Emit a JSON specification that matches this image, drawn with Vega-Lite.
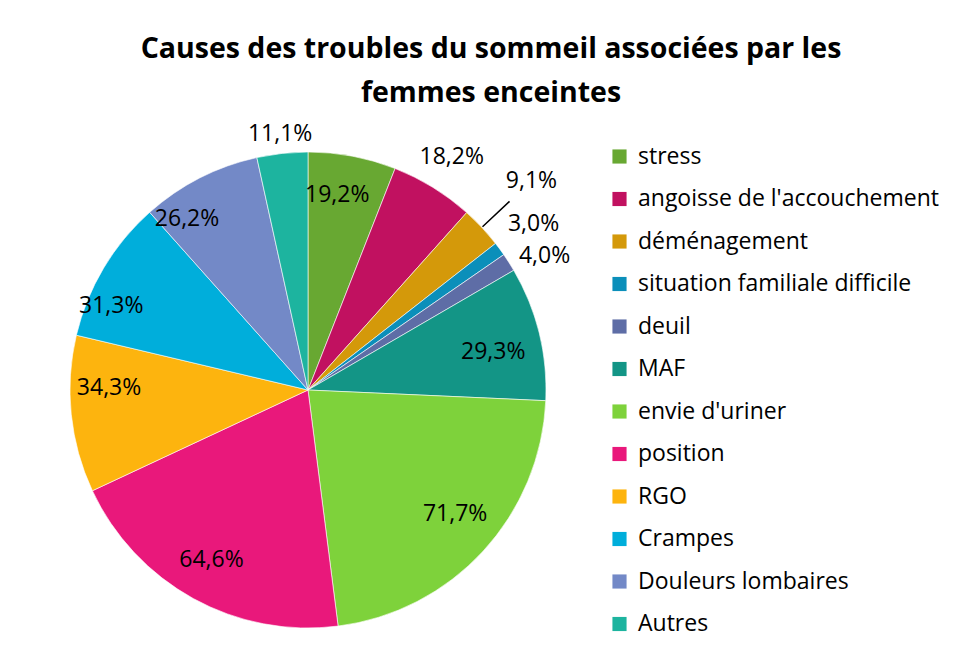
{
  "$schema": "https://vega.github.io/schema/vega-lite/v6.json",
  "autosize": {"type": "none"},
  "width": 476,
  "height": 476,
  "padding": {"left": 70, "top": 152, "right": 418, "bottom": 38},
  "background": "white",
  "config": {"view": {"stroke": null}, "font": "Open Sans", "text": {"fontSize": 23, "font": "Open Sans", "color": "#000000"}},
  "title": {
    "text": ["Causes des troubles du sommeil associées par les", "femmes enceintes"],
    "fontSize": 28.5,
    "fontWeight": "bold",
    "font": "Open Sans",
    "color": "#000000",
    "lineHeight": 44,
    "anchor": "middle",
    "frame": "group",
    "dx": 183,
    "offset": 15
  },
  "data": {
    "values": [
      {"cause": "stress", "pct": 19.2, "label": "19,2%"},
      {"cause": "angoisse de l'accouchement", "pct": 18.2, "label": "18,2%"},
      {"cause": "déménagement", "pct": 9.1, "label": "9,1%"},
      {"cause": "situation familiale difficile", "pct": 3.0, "label": "3,0%"},
      {"cause": "deuil", "pct": 4.0, "label": "4,0%"},
      {"cause": "MAF", "pct": 29.3, "label": "29,3%"},
      {"cause": "envie d'uriner", "pct": 71.7, "label": "71,7%"},
      {"cause": "position", "pct": 64.6, "label": "64,6%"},
      {"cause": "RGO", "pct": 34.3, "label": "34,3%"},
      {"cause": "Crampes", "pct": 31.3, "label": "31,3%"},
      {"cause": "Douleurs lombaires", "pct": 26.2, "label": "26,2%"},
      {"cause": "Autres", "pct": 11.1, "label": "11,1%"}
    ]
  },
  "transform": [
    {"window": [{"op": "row_number", "as": "order"}]},
    {"stack": "pct", "groupby": [], "sort": [{"field": "order"}], "offset": "normalize", "as": ["t0", "t1"]},
    {"calculate": "(datum.t0 + datum.t1) / 2", "as": "tmid"}
  ],
  "encoding": {
    "theta": {"field": "tmid", "type": "quantitative", "stack": null, "scale": {"domain": [0, 1], "nice": false, "zero": true}}
  },
  "layer": [
    {
      "mark": {"type": "arc", "outerRadius": 238, "stroke": "white", "strokeWidth": 0.6},
      "encoding": {
        "theta": {"field": "t0", "type": "quantitative", "stack": null},
        "theta2": {"field": "t1"},
        "color": {
          "field": "cause",
          "type": "nominal",
          "sort": null,
          "scale": {
            "domain": ["stress", "angoisse de l'accouchement", "déménagement", "situation familiale difficile", "deuil", "MAF", "envie d'uriner", "position", "RGO", "Crampes", "Douleurs lombaires", "Autres"],
            "range": ["#68A832", "#C11160", "#D4990A", "#0B8FBA", "#5E6DA6", "#139586", "#7ED23B", "#E9187B", "#FDB40E", "#00AEDB", "#7389C7", "#1DB49F"]
          },
          "legend": {
            "title": null,
            "orient": "none",
            "legendX": 538,
            "legendY": -7,
            "symbolType": "square",
            "symbolSize": 200,
            "symbolStrokeWidth": 0,
            "labelFontSize": 23,
            "labelFont": "Open Sans",
            "labelColor": "#000000",
            "labelOffset": 7,
            "rowPadding": 18.5,
            "labelLimit": 400
          }
        }
      }
    },
    {
      "transform": [{"filter": {"field": "cause", "equal": "déménagement"}}],
      "mark": {"type": "arc", "innerRadius": 239, "outerRadius": 276, "fill": null, "stroke": "#000000", "strokeWidth": 1.5},
      "encoding": {"theta": {"field": "tmid", "type": "quantitative", "stack": null}, "theta2": {"field": "tmid"}}
    },
    {
      "transform": [{"filter": {"field": "cause", "equal": "stress"}}],
      "mark": {"type": "text", "radius": 200, "dx": -8, "dy": 2},
      "encoding": {"text": {"field": "label"}}
    },
    {
      "transform": [{"filter": {"field": "cause", "equal": "position"}}],
      "mark": {"type": "text", "radius": 200, "dy": -5},
      "encoding": {"text": {"field": "label"}}
    },
    {
      "transform": [{"filter": {"field": "cause", "equal": "MAF"}}],
      "mark": {"type": "text", "radius": 200, "dx": -9, "dy": 10},
      "encoding": {"text": {"field": "label"}}
    },
    {
      "transform": [{"filter": {"field": "cause", "equal": "envie d'uriner"}}],
      "mark": {"type": "text", "radius": 200, "dy": -12},
      "encoding": {"text": {"field": "label"}}
    },
    {
      "transform": [{"filter": {"field": "cause", "equal": "RGO"}}],
      "mark": {"type": "text", "radius": 200, "dy": -22},
      "encoding": {"text": {"field": "label"}}
    },
    {
      "transform": [{"filter": {"field": "cause", "equal": "Crampes"}}],
      "mark": {"type": "text", "radius": 200, "dx": -25, "dy": 18},
      "encoding": {"text": {"field": "label"}}
    },
    {
      "transform": [{"filter": {"field": "cause", "equal": "Douleurs lombaires"}}],
      "mark": {"type": "text", "radius": 200, "dx": -30, "dy": 7},
      "encoding": {"text": {"field": "label"}}
    },
    {
      "transform": [{"filter": {"field": "cause", "equal": "Autres"}}],
      "mark": {"type": "text", "radius": 258},
      "encoding": {"text": {"field": "label"}}
    },
    {
      "transform": [{"filter": {"field": "cause", "equal": "angoisse de l'accouchement"}}],
      "mark": {"type": "text", "radius": 274},
      "encoding": {"text": {"field": "label"}}
    },
    {
      "transform": [{"filter": {"field": "cause", "equal": "déménagement"}}],
      "mark": {"type": "text", "radius": 306},
      "encoding": {"text": {"field": "label"}}
    },
    {
      "transform": [{"filter": {"field": "cause", "equal": "situation familiale difficile"}}],
      "mark": {"type": "text", "radius": 280},
      "encoding": {"text": {"field": "label"}}
    },
    {
      "transform": [{"filter": {"field": "cause", "equal": "deuil"}}],
      "mark": {"type": "text", "radius": 272, "dx": 7, "dy": 12},
      "encoding": {"text": {"field": "label"}}
    }
  ]
}
